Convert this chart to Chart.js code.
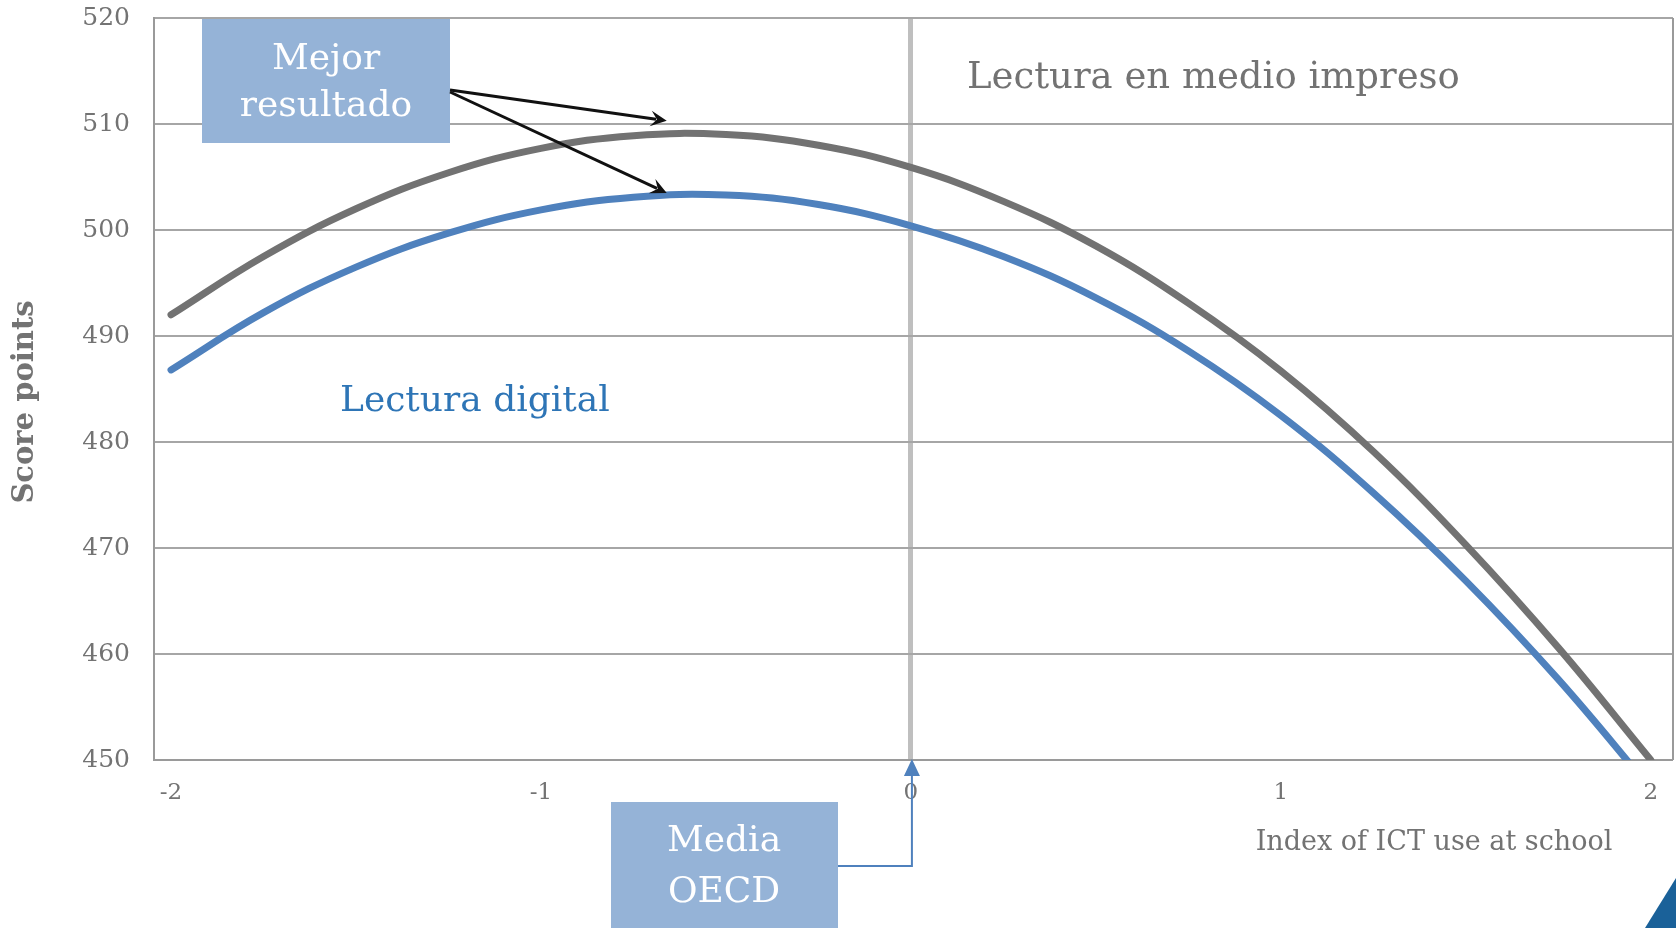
<!DOCTYPE html>
<html>
<head>
<meta charset="utf-8">
<script src="https://cdn.jsdelivr.net/npm/chart.js@4.4.1/dist/chart.umd.min.js"></script>
<style>
  html, body { margin: 0; padding: 0; background: #fff; }
  #wrap { width: 1676px; height: 928px; position: relative; }
</style>
</head>
<body>
<div id="wrap"><canvas id="ictChart" width="1676" height="928"></canvas></div>
<script>
const xValues = [-2, -1.75, -1.5, -1.25, -1, -0.75, -0.5, -0.25, 0, 0.25, 0.5, 0.75, 1, 1.25, 1.5, 1.75, 2];
const printScores = [492.0, 497.5, 502.0, 505.4, 507.7, 508.9, 509.0, 508.0, 505.9, 502.7, 498.5, 493.1, 486.7, 479.1, 470.3, 460.6, 450.0];
const digitalScores = [486.8, 492.2, 496.5, 499.7, 501.9, 503.1, 503.3, 502.4, 500.4, 497.5, 493.6, 488.6, 482.5, 475.2, 466.9, 457.6, 447.3];
const xTicks = [-2, -1, 0, 1, 2];
const yTicks = [450, 460, 470, 480, 490, 500, 510, 520];

const FONT = "'DejaVu Serif', Georgia, serif";
const GREY = "#737373";
const BOX = "#95b3d7";

function toPoints(ys) {
  return xValues.map((x, i) => ({ x: x, y: ys[i] }));
}

function arrow(ctx, x1, y1, x2, y2, color, width, head) {
  const ang = Math.atan2(y2 - y1, x2 - x1);
  ctx.strokeStyle = color;
  ctx.fillStyle = color;
  ctx.lineWidth = width;
  ctx.beginPath();
  ctx.moveTo(x1, y1);
  ctx.lineTo(x2 - Math.cos(ang) * head * 0.6, y2 - Math.sin(ang) * head * 0.6);
  ctx.stroke();
  ctx.beginPath();
  ctx.moveTo(x2, y2);
  ctx.lineTo(x2 - head * Math.cos(ang - 0.45), y2 - head * Math.sin(ang - 0.45));
  ctx.lineTo(x2 - head * 0.55 * Math.cos(ang), y2 - head * 0.55 * Math.sin(ang));
  ctx.lineTo(x2 - head * Math.cos(ang + 0.45), y2 - head * Math.sin(ang + 0.45));
  ctx.closePath();
  ctx.fill();
}

// annotations, frame and slide decoration
const extras = {
  id: "extras",
  afterDraw(chart) {
    const ctx = chart.ctx;
    const area = chart.chartArea;
    const xs = chart.scales.x;
    const ys = chart.scales.y;
    ctx.save();

    // right frame line
    ctx.strokeStyle = "#9a9a9a";
    ctx.lineWidth = 2;
    ctx.beginPath();
    ctx.moveTo(area.right, area.top);
    ctx.lineTo(area.right, area.bottom);
    ctx.stroke();

    // y axis title
    ctx.save();
    ctx.translate(25, 402);
    ctx.rotate(-Math.PI / 2);
    ctx.fillStyle = GREY;
    ctx.font = "bold 29px " + FONT;
    ctx.textAlign = "center";
    ctx.textBaseline = "middle";
    ctx.fillText("Score points", 0, 0);
    ctx.restore();

    // "Mejor resultado" box
    ctx.fillStyle = BOX;
    ctx.fillRect(202, 19, 248, 124);
    ctx.fillStyle = "#fff";
    ctx.font = "36px " + FONT;
    ctx.textAlign = "center";
    ctx.textBaseline = "middle";
    ctx.fillText("Mejor", 326, 60);
    ctx.fillText("resultado", 326, 107);

    // arrows to the peaks
    arrow(ctx, 450, 90, xs.getPixelForValue(-0.66), ys.getPixelForValue(510.3), "#111", 3, 18);
    arrow(ctx, 450, 92, xs.getPixelForValue(-0.66), ys.getPixelForValue(503.5), "#111", 3, 18);

    // series labels
    ctx.textAlign = "left";
    ctx.fillStyle = GREY;
    ctx.font = "37px " + FONT;
    ctx.fillText("Lectura en medio impreso", 967, 78);
    ctx.fillStyle = "#2e75b6";
    ctx.font = "36px " + FONT;
    ctx.fillText("Lectura digital", 340, 402);

    // x axis title
    ctx.fillStyle = GREY;
    ctx.font = "27px " + FONT;
    ctx.textAlign = "center";
    ctx.fillText("Index of ICT use at school", 1434, 843);

    // "Media OECD" box and connector
    const x0 = xs.getPixelForValue(0);
    ctx.strokeStyle = "#4f81bd";
    ctx.lineWidth = 2;
    ctx.beginPath();
    ctx.moveTo(838, 866);
    ctx.lineTo(x0 + 1, 866);
    ctx.lineTo(x0 + 1, area.bottom + 14);
    ctx.stroke();
    ctx.fillStyle = "#4f81bd";
    ctx.beginPath();
    ctx.moveTo(x0 + 1, area.bottom - 1);
    ctx.lineTo(x0 - 7, area.bottom + 16);
    ctx.lineTo(x0 + 9, area.bottom + 16);
    ctx.closePath();
    ctx.fill();

    ctx.fillStyle = BOX;
    ctx.fillRect(611, 802, 227, 126);
    ctx.fillStyle = "#fff";
    ctx.font = "36px " + FONT;
    ctx.fillText("Media", 724, 842);
    ctx.fillText("OECD", 724, 893);

    // slide corner
    ctx.fillStyle = "#1a6199";
    ctx.beginPath();
    ctx.moveTo(1645, 928);
    ctx.lineTo(1676, 878);
    ctx.lineTo(1676, 928);
    ctx.closePath();
    ctx.fill();

    ctx.restore();
  }
};

const ctx = document.getElementById("ictChart").getContext("2d");
new Chart(ctx, {
  type: "line",
  data: {
    datasets: [
      {
        label: "Lectura en medio impreso",
        data: toPoints(printScores),
        borderColor: "#727272",
        borderWidth: 7,
        pointRadius: 0,
        tension: 0.4,
        borderCapStyle: "round",
        clip: 0,
      },
      {
        label: "Lectura digital",
        data: toPoints(digitalScores),
        borderColor: "#4f81bd",
        borderWidth: 7,
        pointRadius: 0,
        tension: 0.4,
        borderCapStyle: "round",
        clip: 0,
      },
    ],
  },
  options: {
    responsive: false,
    animation: false,
    layout: { padding: { top: 18, right: 3, left: 0, bottom: 0 } },
    plugins: { legend: { display: false }, tooltip: { enabled: false } },
    scales: {
      x: {
        type: "linear",
        min: -2.046,
        max: 2.06,
        afterBuildTicks: (axis) => { axis.ticks = xTicks.map((v) => ({ value: v })); },
        afterFit: (axis) => {
          axis.height = 928 - 760;
          axis.paddingLeft = 0;
          axis.paddingRight = 0;
        },
        grid: {
          drawTicks: false,
          color: (c) => (c.tick && c.tick.value === 0 ? "#bfbfbf" : "rgba(0,0,0,0)"),
          lineWidth: (c) => (c.tick && c.tick.value === 0 ? 5 : 0),
        },
        border: { color: "#9a9a9a", width: 2 },
        ticks: { color: GREY, font: { family: FONT, size: 23 }, padding: 19, maxRotation: 0 },
      },
      y: {
        min: 450,
        max: 520,
        afterBuildTicks: (axis) => { axis.ticks = yTicks.map((v) => ({ value: v })); },
        afterFit: (axis) => {
          axis.width = 154;
          axis.paddingTop = 0;
          axis.paddingBottom = 0;
        },
        grid: { drawTicks: false, color: "#a6a6a6", lineWidth: 2 },
        border: { color: "#9a9a9a", width: 2 },
        ticks: { color: GREY, font: { family: FONT, size: 25 }, padding: 24 },
      },
    },
  },
  plugins: [extras],
});
</script>
</body>
</html>
